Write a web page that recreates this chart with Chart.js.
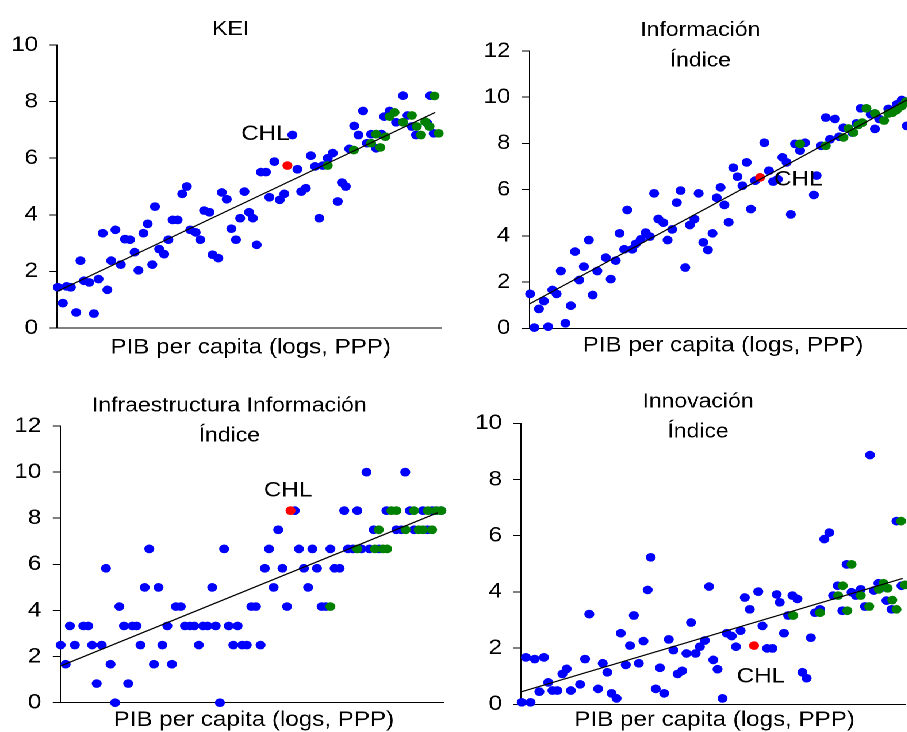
<!DOCTYPE html>
<html lang="es">
<head>
<meta charset="utf-8">
<title>KEI e índices frente al PIB per capita</title>
<script src="https://cdn.jsdelivr.net/npm/chart.js@4.4.1/dist/chart.umd.min.js"></script>
<style>
  html, body { margin: 0; padding: 0; background: #fff; overflow: hidden; }
  /* la imagen original está algo estirada en horizontal */
  #lienzo { position: absolute; left: 0; top: 0; width: 800px; height: 732px;
            transform: scaleX(1.15); transform-origin: 0 0; }
  #lienzo canvas { position: absolute; }
</style>
</head>
<body>
<div id="lienzo">
  <canvas id="kei" width="394" height="366" style="left:0px;top:0px"></canvas>
  <canvas id="info" width="390" height="366" style="left:410px;top:0px"></canvas>
  <canvas id="infra" width="394" height="366" style="left:0px;top:366px"></canvas>
  <canvas id="innov" width="390" height="366" style="left:410px;top:366px"></canvas>
</div>
<script>
// Eje X: posición relativa en PIB per capita (logs, PPP), 0 = inicio del eje, 100 = final

// --- KEI ---
const keiAzulX = [0.2, 1.5, 2.5, 3.6, 5.0, 6.1, 7.0, 8.4, 9.6, 10.8, 11.9, 13.1, 14.1, 15.2, 16.6, 17.7, 19.0, 20.2, 21.2, 22.5, 23.6, 24.8, 25.5, 26.6, 27.9, 29.0, 30.1, 31.4, 32.6, 33.8, 34.7, 36.1, 37.3, 38.3, 39.7, 40.5, 42.0, 42.9, 44.2, 45.4, 46.6, 47.7, 48.8, 50.0, 51.0, 52.0, 53.1, 54.4, 55.3, 56.6, 58.0, 59.2, 61.3, 62.6, 63.6, 64.8, 66.1, 67.2, 68.3, 69.2, 70.5, 71.8, 73.1, 74.2, 75.2, 76.1, 77.4, 78.5, 79.7, 80.7, 81.8, 83.1, 84.5, 85.2, 86.6, 88.3, 90.1, 91.3, 92.4, 93.5, 96.4, 97.2, 98.1];
const keiAzulY = [1.44, 0.88, 1.47, 1.44, 0.55, 2.38, 1.67, 1.61, 0.51, 1.73, 3.35, 1.35, 2.38, 3.47, 2.24, 3.14, 3.12, 2.68, 2.04, 3.35, 3.68, 2.24, 4.29, 2.79, 2.61, 3.12, 3.82, 3.82, 4.74, 5.0, 3.47, 3.38, 3.12, 4.15, 4.09, 2.59, 2.47, 4.79, 4.55, 3.51, 3.12, 3.88, 4.82, 4.09, 3.88, 2.94, 5.51, 5.51, 4.62, 5.88, 4.53, 4.74, 6.82, 5.61, 4.82, 4.94, 6.09, 5.71, 3.88, 5.74, 6.0, 6.18, 4.47, 5.14, 5.0, 6.33, 7.14, 6.82, 7.67, 6.53, 6.85, 6.35, 6.85, 7.47, 7.67, 7.27, 8.21, 7.51, 7.12, 6.82, 7.24, 8.21, 6.88];
const keiVerdeX = [70.5, 77.3, 81.8, 83.1, 84.2, 85.5, 86.6, 87.9, 90.1, 92.4, 93.7, 94.8, 95.9, 97.0, 98.3, 99.4];
const keiVerdeY = [5.74, 6.29, 6.53, 6.85, 6.38, 6.76, 7.47, 7.62, 7.27, 7.51, 7.12, 6.82, 7.29, 7.12, 8.2, 6.88];
const keiChl = [60.0, 5.74];
const keiTendencia = [[0, 1.29], [98.5, 7.62]];

// --- Información Índice ---
const infoAzulX = [0.2, 1.3, 2.5, 3.8, 4.9, 6.0, 7.1, 8.2, 9.4, 10.8, 11.9, 13.0, 14.2, 15.5, 16.5, 17.7, 19.9, 21.2, 22.5, 23.5, 24.7, 25.5, 26.8, 27.7, 29.0, 30.3, 31.4, 32.5, 33.6, 34.9, 36.0, 37.2, 38.4, 39.4, 40.6, 41.8, 43.0, 44.1, 45.3, 46.5, 47.7, 48.8, 49.8, 50.8, 51.9, 53.1, 54.2, 55.5, 56.6, 57.7, 58.8, 61.2, 62.4, 63.5, 64.7, 65.9, 67.0, 68.1, 69.2, 70.5, 71.8, 74.1, 74.8, 76.0, 77.2, 78.3, 79.6, 80.7, 81.8, 84.1, 85.2, 86.3, 88.9, 90.0, 91.1, 93.5, 95.7, 97.0, 98.3];
const infoAzulY = [1.49, 0.03, 0.84, 1.18, 0.07, 1.66, 1.49, 2.48, 0.22, 0.98, 3.32, 2.09, 2.67, 3.82, 1.44, 2.48, 3.06, 2.13, 2.93, 4.11, 3.42, 5.12, 3.42, 3.65, 3.85, 4.14, 3.97, 5.84, 4.73, 4.57, 3.82, 4.28, 5.44, 5.96, 2.63, 4.47, 4.73, 5.84, 3.72, 3.39, 4.11, 5.65, 6.10, 5.34, 4.59, 6.95, 6.56, 6.17, 7.18, 5.16, 6.39, 8.03, 6.82, 6.35, 6.45, 7.40, 7.18, 4.93, 7.98, 7.69, 8.03, 5.77, 6.61, 7.90, 9.12, 8.18, 9.06, 8.29, 8.68, 8.47, 8.87, 9.52, 9.26, 8.63, 9.06, 9.49, 9.69, 9.88, 8.76];
const infoVerdeX = [70.5, 77.2, 81.8, 83.1, 84.4, 85.7, 86.7, 87.8, 90.0, 92.4, 93.5, 94.6, 95.7, 97.0, 98.1];
const infoVerdeY = [7.98, 7.90, 8.26, 8.65, 8.47, 8.80, 8.90, 9.52, 9.30, 8.99, 9.30, 9.33, 9.45, 9.62, 9.81];
const infoChl = [60.1, 6.53];
const infoTendencia = [[0, 1.05], [98.3, 9.88]];

// --- Infraestructura Información Índice ---
const infraAzulX = [0.1, 1.4, 2.5, 3.8, 6.0, 7.3, 8.3, 9.5, 10.8, 11.9, 13.1, 14.3, 15.4, 16.6, 17.7, 18.8, 19.9, 20.9, 22.0, 23.2, 24.4, 25.6, 26.6, 27.9, 29.1, 30.1, 31.4, 32.5, 33.8, 34.9, 36.1, 37.2, 38.4, 39.6, 40.5, 41.6, 42.7, 43.9, 45.1, 46.2, 47.4, 48.6, 49.8, 51.0, 52.2, 53.3, 54.4, 55.6, 56.8, 57.9, 59.1, 61.1, 62.2, 63.5, 64.6, 65.7, 66.9, 68.1, 69.2, 70.4, 71.5, 72.8, 74.0, 75.0, 76.3, 77.4, 78.5, 79.8, 80.6, 81.7, 83.1, 85.0, 87.6, 88.9, 89.9, 91.1, 92.2, 94.5, 95.7, 96.9, 98.0, 99.3];
const infraAzulY = [2.5, 1.67, 3.33, 2.5, 3.33, 3.33, 2.5, 0.83, 2.5, 5.83, 1.67, 0, 4.17, 3.33, 0.83, 3.33, 3.33, 2.5, 5.0, 6.67, 1.67, 5.0, 2.5, 3.33, 1.67, 4.17, 4.17, 3.33, 3.33, 3.33, 2.5, 3.33, 3.33, 5.0, 3.33, 0, 6.67, 3.33, 2.5, 3.33, 2.5, 2.5, 4.17, 4.17, 2.5, 5.83, 6.67, 5.0, 7.5, 5.83, 4.17, 8.33, 6.67, 5.83, 5.0, 6.67, 5.83, 4.17, 4.17, 6.67, 5.83, 5.83, 8.33, 6.67, 6.67, 8.33, 6.67, 10, 6.67, 7.5, 6.67, 8.33, 7.5, 7.5, 10, 8.33, 7.5, 8.33, 7.5, 8.33, 8.33, 8.33];
const infraVerdeX = [70.4, 77.4, 82.0, 83.0, 84.1, 85.2, 86.3, 87.6, 90.0, 92.2, 93.4, 94.5, 96.9, 95.8, 98.0, 99.3];
const infraVerdeY = [4.17, 6.67, 6.67, 7.5, 6.67, 6.67, 8.33, 8.33, 7.5, 8.33, 7.5, 7.5, 7.5, 8.33, 8.33, 8.33];
const infraChl = [60.0, 8.33];
const infraTendencia = [[0.2, 1.60], [98.4, 8.24]];

// --- Innovación Índice ---
const innovAzulX = [0.2, 1.3, 2.5, 3.6, 4.8, 6.0, 7.1, 8.2, 9.5, 10.8, 11.9, 13.0, 15.4, 16.7, 17.8, 20.1, 21.3, 22.5, 23.6, 24.9, 26.0, 27.3, 28.4, 29.4, 30.7, 31.9, 33.0, 33.8, 35.1, 36.2, 37.3, 38.5, 39.7, 40.8, 42.0, 43.1, 44.3, 45.5, 46.6, 47.9, 49.0, 50.1, 51.2, 52.5, 53.6, 54.9, 56.0, 57.2, 58.3, 59.6, 61.8, 62.9, 64.1, 65.5, 66.6, 67.4, 68.5, 69.6, 70.7, 72.0, 73.3, 74.4, 75.5, 76.6, 77.9, 79.0, 80.3, 81.3, 82.5, 83.7, 84.8, 86.1, 87.2, 88.5, 89.6, 90.9, 91.9, 93.1, 94.2, 95.2, 96.5, 97.8, 99.1];
const innovAzulY = [0.07, 1.67, 0.07, 1.61, 0.45, 1.67, 0.78, 0.49, 0.49, 1.08, 1.26, 0.49, 0.71, 1.61, 3.21, 0.55, 1.46, 1.14, 0.39, 0.21, 2.53, 1.40, 2.09, 3.16, 1.46, 2.25, 4.07, 5.23, 0.55, 1.30, 0.39, 2.31, 1.93, 1.08, 1.19, 1.81, 2.91, 1.81, 2.05, 2.27, 4.19, 1.58, 1.25, 0.21, 2.53, 2.43, 2.05, 2.62, 3.80, 3.38, 4.01, 2.79, 1.99, 1.99, 3.91, 3.63, 2.53, 3.16, 3.87, 3.75, 1.14, 0.93, 2.37, 3.26, 3.38, 5.88, 6.11, 3.87, 4.22, 3.33, 4.98, 3.99, 3.87, 4.09, 3.48, 8.87, 4.05, 4.31, 4.16, 3.69, 3.38, 6.52, 4.22];
const innovVerdeX = [70.9, 77.9, 82.6, 83.8, 85.0, 86.1, 88.5, 90.7, 93.2, 94.4, 95.5, 96.7, 97.8, 99.0, 100.0];
const innovVerdeY = [3.16, 3.26, 3.87, 4.22, 3.33, 4.98, 3.87, 3.48, 4.09, 4.31, 4.13, 3.71, 3.38, 6.52, 4.25];
const innovChl = [60.7, 2.09];
const innovTendencia = [[0.2, 0.45], [99.4, 4.48]];

const etiquetaEjeX = 'PIB per capita (logs, PPP)';
const FUENTE = '"Liberation Sans", Arial, Helvetica, sans-serif';

Chart.defaults.font.family = FUENTE;

// textos del panel: título, etiqueta del eje y la marca CHL junto al punto rojo
const textosPanel = {
    id: 'textosPanel',
    afterDatasetsDraw(chart, args, opts) {
        const ctx = chart.ctx;
        const area = chart.chartArea;
        ctx.save();
        ctx.fillStyle = '#000';
        ctx.textAlign = 'center';
        ctx.textBaseline = 'alphabetic';
        ctx.font = '20px ' + FUENTE;
        opts.titulo.forEach((linea, i) => ctx.fillText(linea, opts.tituloX, opts.tituloY[i]));
        ctx.font = '21px ' + FUENTE;
        ctx.fillText(etiquetaEjeX, (area.left + area.right) / 2 + 1.5, opts.ejeY);
        const px = chart.scales.x.getPixelForValue(opts.chl[0]);
        const py = chart.scales.y.getPixelForValue(opts.chl[1]);
        ctx.fillText('CHL', px + opts.chlDx, py + opts.chlDy);
        ctx.restore();
    }
};

function puntos(xs, ys, color, orden) {
    return {
        data: xs.map((x, i) => ({ x: x, y: ys[i] })),
        pointRadius: 4.35,
        pointBackgroundColor: color,
        pointBorderWidth: 0,
        clip: false,
        order: orden
    };
}

function crearPanel(id, p) {
    return new Chart(document.getElementById(id), {
        type: 'scatter',
        data: {
            datasets: [
                {
                    data: p.tendencia.map(t => ({ x: t[0], y: t[1] })),
                    showLine: true, borderColor: '#000', borderWidth: 1.2,
                    pointRadius: 0, order: 0
                },
                puntos([p.chl[0]], [p.chl[1]], '#ff0000', 1),
                puntos(p.verdeX, p.verdeY, '#008000', 2),
                puntos(p.azulX, p.azulY, '#0000ff', 3)
            ]
        },
        options: {
            responsive: false,
            animation: false,
            events: [],
            devicePixelRatio: 2,
            layout: { padding: { left: 0, top: p.pad[0], right: p.pad[1], bottom: p.pad[2] } },
            plugins: {
                legend: { display: false },
                tooltip: { enabled: false },
                textosPanel: {
                    titulo: p.titulo, tituloX: p.tituloX, tituloY: p.tituloY,
                    ejeY: p.ejeY, chl: p.chl, chlDx: p.chlDx, chlDy: p.chlDy
                }
            },
            scales: {
                x: {
                    type: 'linear', min: 0, max: 100,
                    ticks: { display: false },
                    grid: { display: false },
                    border: { display: true, color: '#000', width: 1 },
                    afterFit: s => { s.height = 0; }
                },
                y: {
                    min: 0, max: p.yMax,
                    ticks: { stepSize: 2, color: '#000', font: { size: 21 }, padding: 10 },
                    grid: { drawOnChartArea: false, drawTicks: true, tickLength: 6.5, color: '#000', lineWidth: 1 },
                    border: { display: true, color: '#000', width: 1 },
                    afterFit: s => { s.width = p.anchoEjeY; }
                }
            }
        },
        plugins: [textosPanel]
    });
}

crearPanel('kei', {
    azulX: keiAzulX, azulY: keiAzulY, verdeX: keiVerdeX, verdeY: keiVerdeY,
    chl: keiChl, tendencia: keiTendencia, yMax: 10,
    anchoEjeY: 49.6, pad: [45, 10.5, 38],
    titulo: ['KEI'], tituloX: 200.6, tituloY: [35], ejeY: 353.3,
    chlDx: -19.2, chlDy: -25.5
});

crearPanel('info', {
    azulX: infoAzulX, azulY: infoAzulY, verdeX: infoVerdeX, verdeY: infoVerdeY,
    chl: infoChl, tendencia: infoTendencia, yMax: 12,
    anchoEjeY: 50.3, pad: [51, 5.8, 37.7],
    titulo: ['Información', 'Índice'], tituloX: 199, tituloY: [36, 66.7], ejeY: 351.7,
    chlDx: 33.2, chlDy: 8.3
});

crearPanel('infra', {
    azulX: infraAzulX, azulY: infraAzulY, verdeX: infraVerdeX, verdeY: infraVerdeY,
    chl: infraChl, tendencia: infraTendencia, yMax: 12,
    anchoEjeY: 52.4, pad: [60, 7.9, 29.3],
    titulo: ['Infraestructura Información', 'Índice'], tituloX: 199.4, tituloY: [45.7, 75.7], ejeY: 360,
    chlDx: -2.1, chlDy: -13.9
});

crearPanel('innov', {
    azulX: innovAzulX, azulY: innovAzulY, verdeX: innovVerdeX, verdeY: innovVerdeY,
    chl: innovChl, tendencia: innovTendencia, yMax: 10,
    anchoEjeY: 43, pad: [57.3, 13.1, 27.7],
    titulo: ['Innovación', 'Índice'], tituloX: 197, tituloY: [41.7, 71.7], ejeY: 360,
    chlDx: 6, chlDy: 36.7
});
</script>
</body>
</html>
